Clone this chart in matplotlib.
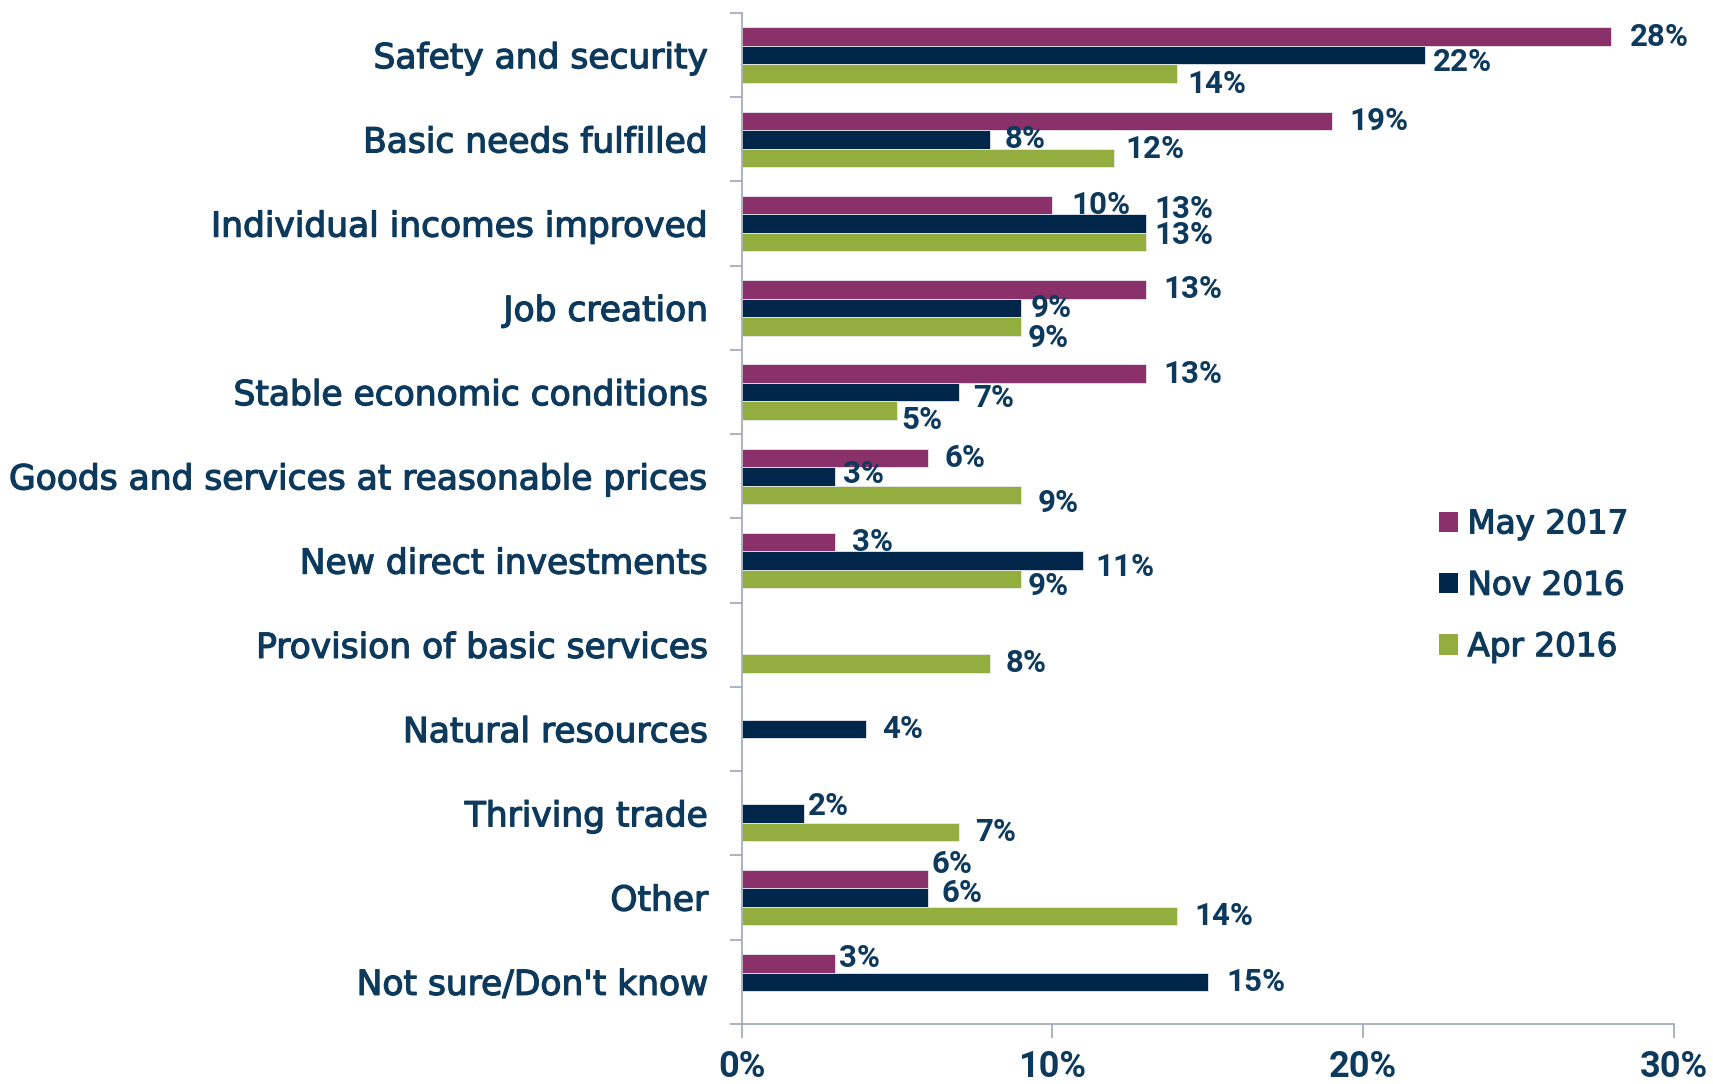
import matplotlib
matplotlib.use("Agg")
import matplotlib.pyplot as plt
import matplotlib.patheffects as pe
import numpy as np
from matplotlib.patches import Patch

categories = [
    "Safety and security",
    "Basic needs fulfilled",
    "Individual incomes improved",
    "Job creation",
    "Stable economic conditions",
    "Goods and services at reasonable prices",
    "New direct investments",
    "Provision of basic services",
    "Natural resources",
    "Thriving trade",
    "Other",
    "Not sure/Don't know",
]
series_names = ["May 2017", "Nov 2016", "Apr 2016"]
may_2017 = [28, 19, 10, 13, 13, 6, 3, None, None, None, 6, 3]
nov_2016 = [22, 8, 13, 9, 7, 3, 11, None, 4, 2, 6, 15]
apr_2016 = [14, 12, 13, 9, 5, 9, 9, 8, None, 7, 14, None]
x_ticks = [0, 10, 20, 30]
x_tick_labels = ["0%", "10%", "20%", "30%"]

colors = ["#8B3169", "#00274A", "#93AE3E"]
text_color = "#0D3A5C"
axis_color = "#A0A7B4"

# label nudges (style): (dx, dy) in reference pixels from bar end / bar centre, dy positive = down
label_nudge = {
    (0, 0): (17, 0), (0, 1): (7, 6.5), (0, 2): (10, 9.5),
    (1, 0): (16, 0), (1, 1): (13, 0), (1, 2): (10, -8.5),
    (2, 0): (17, 0), (2, 1): (8, -13), (2, 2): (8, -6.5),
    (3, 0): (16, 0), (3, 1): (9, 0), (3, 2): (6, 10.5),
    (4, 0): (16, 0), (4, 1): (13, 5.5), (4, 2): (4, 8.5),
    (5, 0): (15, 0), (5, 1): (7, -2.5), (5, 2): (15, 7.5),
    (6, 0): (16, 0), (6, 1): (11, 5.5), (6, 2): (6, 6.5),
    (7, 2): (14, 0),
    (8, 1): (15, 0),
    (9, 1): (4, -6.5), (9, 2): (15, 0),
    (10, 0): (3, -13.5), (10, 1): (12, -4.5), (10, 2): (16, 0),
    (11, 0): (4, -4.5), (11, 1): (17, 0),
}
px_to_pt = 1.0925 * 0.72

num_font = ["Roboto", "DejaVu Sans"]
heavy = [pe.withStroke(linewidth=0.9, foreground=text_color)]

fig = plt.figure(figsize=(17.13, 10.84), dpi=100)
ax = fig.add_axes([0.433, 0.0554, 0.544, 0.9326])

n = len(categories)
y = np.arange(n)
bar_h = 0.22
offsets = [-bar_h, 0, bar_h]
all_series = [may_2017, nov_2016, apr_2016]

for s, (vals, col, off) in enumerate(zip(all_series, colors, offsets)):
    for i, v in enumerate(vals):
        if v is None:
            continue
        ax.barh(y[i] + off, v, height=bar_h, color=col, edgecolor="#E8E8EE",
                linewidth=0.6)
        dx, dy = label_nudge.get((i, s), (12, 0))
        ax.annotate(f"{v}%", xy=(v, y[i] + off),
                    xytext=(dx * px_to_pt, -dy * px_to_pt),
                    textcoords="offset points", ha="left", va="center",
                    fontsize=22.5, color=text_color, family=num_font,
                    fontweight="bold")

ax.set_xlim(0, 30)
ax.set_ylim(n - 0.5, -0.5)
ax.set_xticks(x_ticks)
ax.set_xticklabels(x_tick_labels)
ax.set_yticks(y)
ax.set_yticklabels(categories)
ax.set_yticks(np.arange(n + 1) - 0.5, minor=True)

for lab in ax.get_yticklabels():
    lab.set_fontsize(24.8)
    lab.set_color(text_color)
    lab.set_path_effects(heavy)
for lab in ax.get_xticklabels():
    lab.set_fontsize(26)
    lab.set_color(text_color)
    lab.set_family(num_font)
    lab.set_fontweight("bold")

ax.tick_params(axis="y", which="major", length=0, pad=24)
ax.tick_params(axis="y", which="minor", length=9, color=axis_color, width=1.2)
ax.tick_params(axis="x", which="major", length=10, color=axis_color, width=1.2,
               direction="out", pad=8)

for sp in ["top", "right"]:
    ax.spines[sp].set_visible(False)
for sp in ["left", "bottom"]:
    ax.spines[sp].set_color(axis_color)
    ax.spines[sp].set_linewidth(1.2)

handles = [Patch(facecolor=c, edgecolor="none") for c in colors]
leg = ax.legend(handles, series_names, loc="upper left",
                bbox_to_anchor=(0.748, 0.511), frameon=False, fontsize=23.5,
                handlelength=0.58, handleheight=0.58, handletextpad=0.3,
                labelspacing=0.87, borderpad=0, borderaxespad=0)
for t in leg.get_texts():
    t.set_color(text_color)
    t.set_path_effects(heavy)

fig.savefig("out.png", dpi=100)
